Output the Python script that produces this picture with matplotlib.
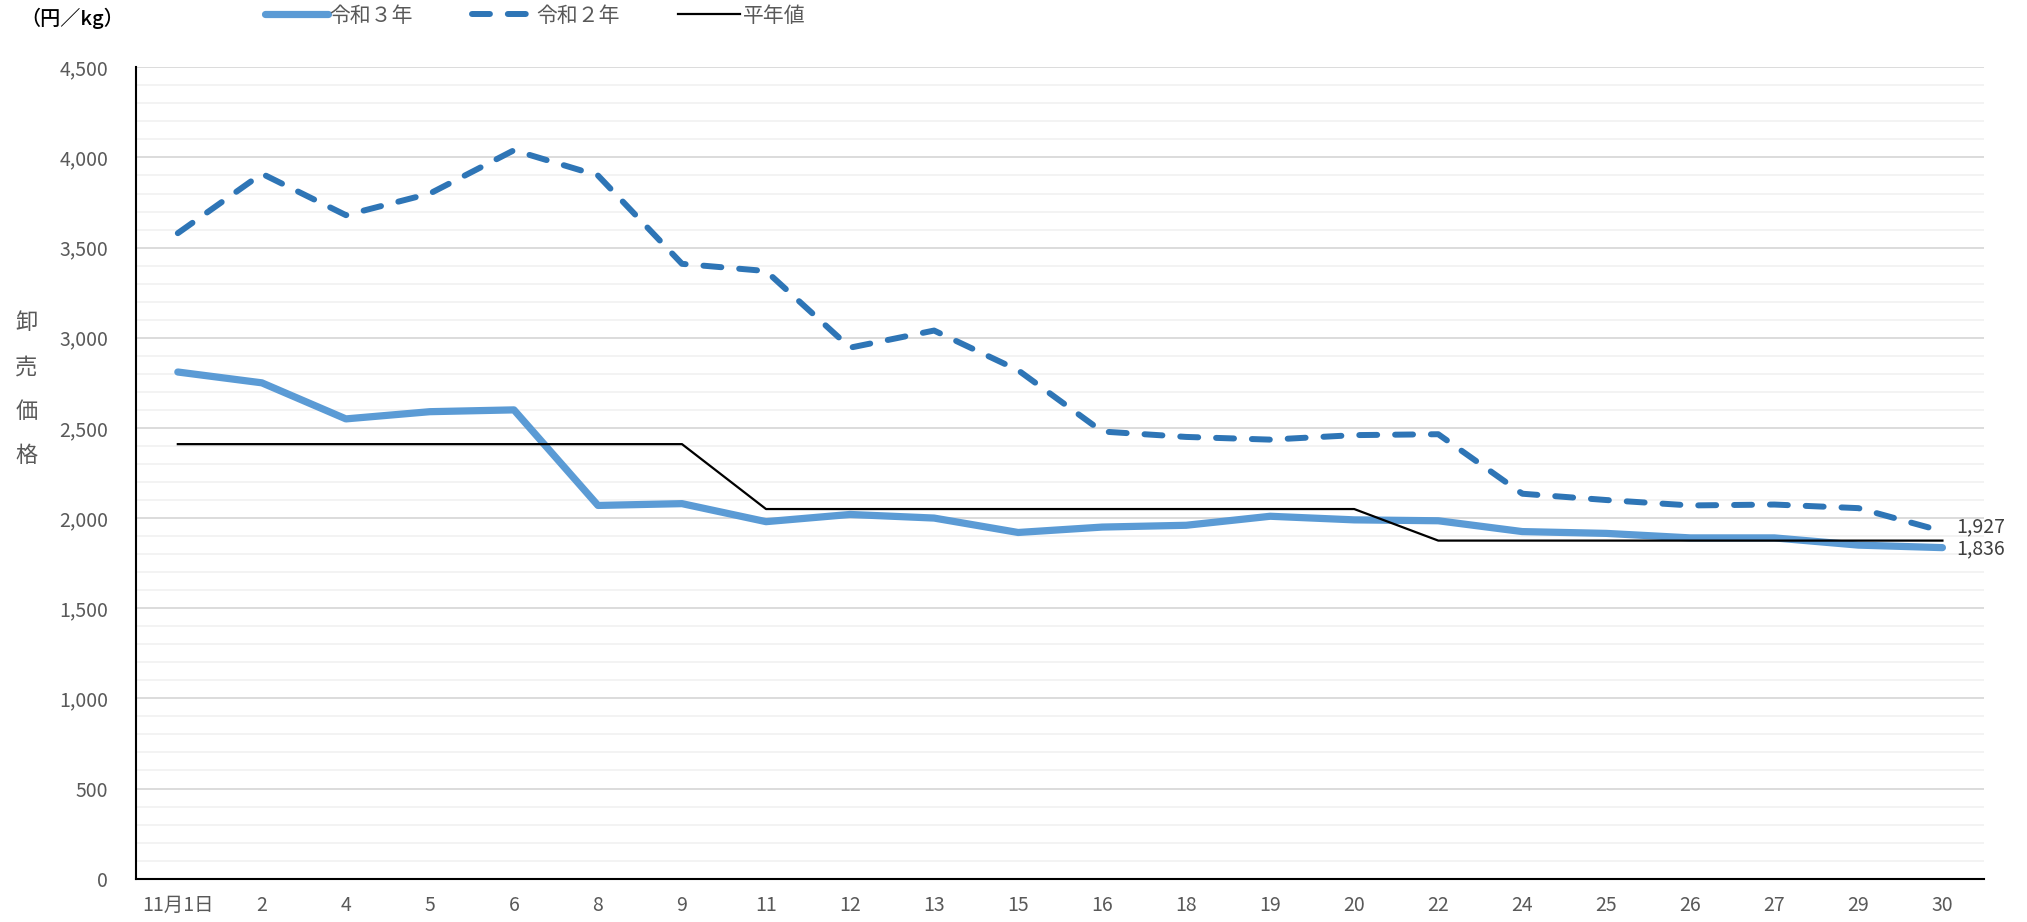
import numpy as np
import matplotlib
matplotlib.use('Agg')
import matplotlib.pyplot as plt
from matplotlib.ticker import MultipleLocator, FuncFormatter

plt.rcParams['font.family'] = ['Noto Sans CJK JP', 'DejaVu Sans']

# Datos.
dias = ['11月1日', '2', '4', '5', '6', '8', '9', '11', '12', '13', '15',
        '16', '18', '19', '20', '22', '24', '25', '26', '27', '29', '30']

reiwa3 = [2810, 2750, 2550, 2590, 2600, 2070, 2080, 1980, 2020, 2000, 1920,
          1950, 1960, 2010, 1990, 1985, 1925, 1915, 1890, 1890, 1850, 1836]

reiwa2 = [3580, 3910, 3680, 3800, 4040, 3900, 3410, 3370, 2945, 3040, 2820,
          2480, 2450, 2435, 2460, 2465, 2135, 2100, 2070, 2075, 2055, 1927]

heinenchi = [2410, 2410, 2410, 2410, 2410, 2410, 2410, 2050, 2050, 2050, 2050,
             2050, 2050, 2050, 2050, 1875, 1875, 1875, 1875, 1875, 1875, 1875]

nombres = ['令和３年', '令和２年', '平年値']

gris = '#595959'

fig = plt.figure(figsize=(20.27, 9.22), dpi=100)
ax = fig.add_axes([0.067, 0.047, 0.912, 0.880])

x = np.arange(len(dias))

l3, = ax.plot(x, reiwa3, color='#5B9BD5', lw=5.2, solid_capstyle='round',
              solid_joinstyle='round', zorder=3)
l2, = ax.plot(x, reiwa2, color='#2E75B6', lw=4.3, ls=(0, (3.0, 3.0)),
              dash_capstyle='round', dash_joinstyle='round', zorder=4)
l0, = ax.plot(x, heinenchi, color='black', lw=1.6, zorder=5)

# Etiquetas finales.
ax.annotate(f'{reiwa2[-1]:,}', (x[-1], reiwa2[-1]), xytext=(10, 3),
            textcoords='offset points', va='center', ha='left',
            fontsize=14, color='#404040')
ax.annotate(f'{reiwa3[-1]:,}', (x[-1], reiwa3[-1]), xytext=(10, -1),
            textcoords='offset points', va='center', ha='left',
            fontsize=14, color='#404040')

# Ejes.
ax.set_xlim(-0.5, len(dias) - 0.5)
ax.set_ylim(0, 4500)
ax.yaxis.set_major_locator(MultipleLocator(500))
ax.yaxis.set_minor_locator(MultipleLocator(100))
ax.yaxis.set_major_formatter(FuncFormatter(lambda v, p: f'{int(v):,}'))
ax.set_xticks(x)
ax.set_xticklabels(dias)
ax.tick_params(axis='both', which='both', length=0, labelsize=14, colors=gris)
ax.tick_params(axis='y', pad=20)
ax.tick_params(axis='x', pad=12)
ax.grid(axis='y', which='major', color='#D9D9D9', lw=1.3)
ax.grid(axis='y', which='minor', color='#F2F2F2', lw=1.3)
ax.set_axisbelow(True)
for s in ['top', 'right']:
    ax.spines[s].set_visible(False)
ax.spines['left'].set_color('black')
ax.spines['bottom'].set_color('black')
ax.spines['left'].set_linewidth(1.5)
ax.spines['bottom'].set_linewidth(1.5)

# Textos.
fig.text(0.010, 0.980, '（円／kg）', fontsize=14.5, color='black', va='center',
         ha='left', fontweight='medium')
for i, c in enumerate('卸売価格'):
    fig.text(0.013, 0.650 - i * 0.048, c, fontsize=16, color=gris,
             va='center', ha='center')

leg = fig.legend([l3, l2, l0], nombres, loc='center',
                 bbox_to_anchor=(0.264, 0.983), ncol=3, frameon=False,
                 fontsize=15, handlelength=3.0, columnspacing=2.8,
                 handletextpad=0.1, labelcolor=gris)

fig.savefig('out.png', dpi=100)
